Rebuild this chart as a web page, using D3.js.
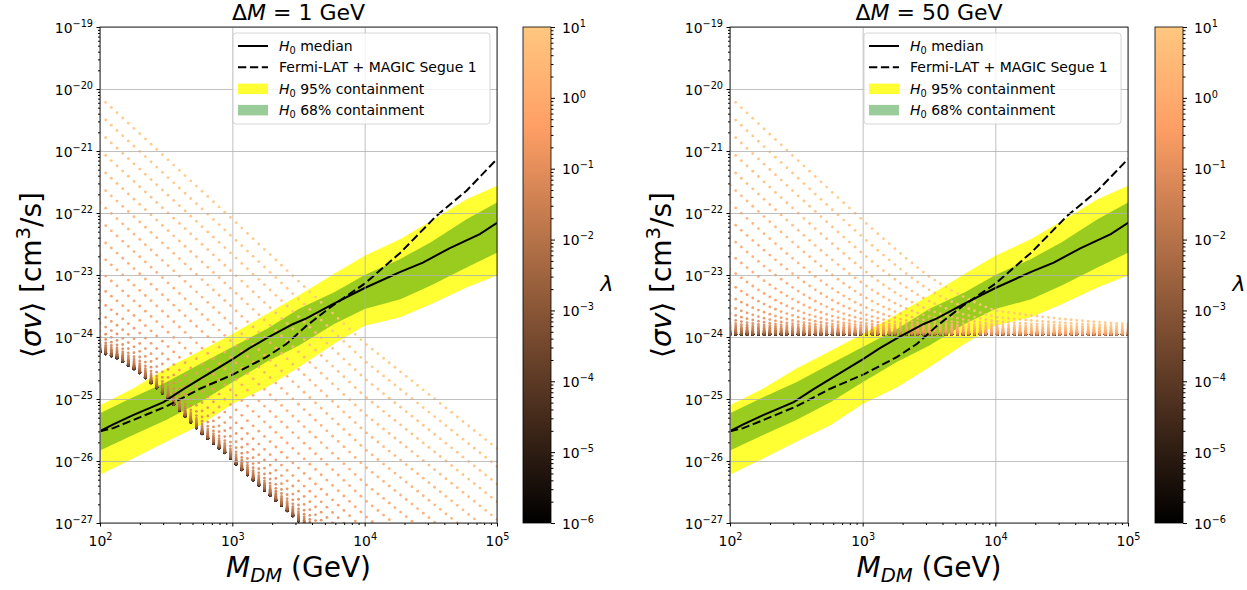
<!DOCTYPE html>
<html>
<head>
<meta charset="UTF-8" />
<title>sigma v limits</title>
<style>
  body { margin: 0; padding: 0; background: #fff; }
  svg { display: block; font-family: 'DejaVu Sans', sans-serif; }
</style>
</head>
<body>
<div class="container"></div>
<script src="https://cdnjs.cloudflare.com/ajax/libs/d3/7.8.5/d3.min.js"></script>
<script>
// ---- expected limits (log10 <sigma v>) ----
const bandMassExp = [2.0, 2.25, 2.5, 2.76, 3.0, 3.26, 3.5, 3.77, 4.0, 4.27, 4.5, 4.77, 5.0];
const band95Hi = [-25.10, -24.83, -24.51, -24.22, -23.95, -23.63, -23.33, -22.98, -22.69, -22.42, -22.13, -21.78, -21.56];
const band68Hi = [-25.23, -24.97, -24.73, -24.43, -24.16, -23.87, -23.55, -23.28, -23.00, -22.74, -22.47, -22.10, -21.83];
const band68Lo = [-25.83, -25.58, -25.34, -25.05, -24.73, -24.40, -24.14, -23.79, -23.55, -23.39, -23.17, -22.88, -22.64];
const band95Lo = [-26.22, -25.96, -25.69, -25.42, -25.08, -24.81, -24.49, -24.11, -23.82, -23.68, -23.47, -23.20, -23.01];

const medianMassExp = [2.0, 2.10, 2.25, 2.48, 2.63, 2.76, 3.0, 3.13, 3.26, 3.46, 3.56, 3.76, 4.0, 4.27, 4.44, 4.64, 4.87, 5.0];
const medianVal = [-25.52, -25.41, -25.26, -25.05, -24.84, -24.67, -24.36, -24.18, -24.02, -23.79, -23.70, -23.47, -23.21, -22.95, -22.80, -22.57, -22.34, -22.16];

const fermiMassExp = [2.0, 2.10, 2.25, 2.50, 2.76, 3.0, 3.26, 3.41, 3.56, 3.76, 4.0, 4.27, 4.54, 4.77, 5.0];
const fermiVal = [-25.52, -25.47, -25.34, -25.12, -24.83, -24.61, -24.32, -24.11, -23.82, -23.49, -23.14, -22.64, -22.05, -21.64, -21.13];

// ---- model scan: mass columns and lambda values of the scatter ----
const massGrid = d3.range(71).map(i => 10 ** (2 + 3 * i / 70));
const lambdaGrid = d3.range(50).map(i => 10 ** (-6 + 7 * i / 49));

// lower envelope of the scan (small lambda) per panel
const floorExp1 = [2.0, 2.13, 2.29, 2.46, 2.62, 2.78, 2.95, 3.06, 3.62, 5.0];
const floorVal1 = [-24.24, -24.34, -24.56, -24.88, -25.23, -25.58, -25.88, -26.12, -27.2, -29.95];
const floorExp50 = [2.0, 5.0];
const floorVal50 = [-23.96, -23.96];
// the lambda = 10 dotted line per panel
const topExp1 = [2.0, 3.0, 4.0, 5.0];
const topVal1 = [-20.13, -22.1, -24.1, -25.8];
const topExp50 = [2.0, 3.0, 3.5, 4.0, 4.5, 5.0];
const topVal50 = [-20.13, -22.13, -23.13, -24.0, -24.4, -24.81];
// height of the dense column sitting on the envelope (fraction of the envelope)
const streakRise = 0.55;

const yTicks = [1e-27, 1e-26, 1e-25, 1e-24, 1e-23, 1e-22, 1e-21, 1e-20, 1e-19];
const xTicks = [1e2, 1e3, 1e4, 1e5];
const cbTicks = [1e-6, 1e-5, 1e-4, 1e-3, 1e-2, 1e-1, 1e0, 1e1];

const panels = [
  { dm: '1', x0: 100, x1: 497, cb: 523, floorE: floorExp1, floorV: floorVal1, topE: topExp1, topV: topVal1 },
  { dm: '50', x0: 730, x1: 1128, cb: 1155, floorE: floorExp50, floorV: floorVal50, topE: topExp50, topV: topVal50 }
];

const W = 1247, H = 590, yTop = 27, yBot = 523, cbW = 28;

const copper = t => d3.rgb(Math.min(1, 1.25 * t) * 255, 0.7812 * t * 255, 0.4975 * t * 255) + '';
const color = d3.scaleSequentialLog(copper).domain([1e-6, 10]);

const minors = (lo, hi) => {
  const out = [];
  for (let e = lo; e < hi; e++) for (let k = 2; k <= 9; k++) out.push(k * 10 ** e);
  return out;
};

const supLabel = (sel, fs) => sel.each(function (d) {
  const e = Math.round(Math.log10(d));
  const t = d3.select(this).text(null);
  t.append('tspan').text('10');
  t.append('tspan').attr('font-size', fs * 0.7).attr('dy', -fs * 0.42)
    .text(e < 0 ? '\u2212' + (-e) : '' + e);
});

const svg = d3.select('.container').append('svg').attr('width', W).attr('height', H);
const defs = svg.append('defs');

const grad = defs.append('linearGradient').attr('id', 'copper')
  .attr('x1', 0).attr('y1', 1).attr('x2', 0).attr('y2', 0);
d3.range(0, 1.0001, 0.05).forEach(t => grad.append('stop').attr('offset', t).attr('stop-color', copper(t)));

const drawPanel = (p, idx) => {
  const x = d3.scaleLog().domain([1e2, 1e5]).range([p.x0, p.x1]);
  const y = d3.scaleLog().domain([1e-27, 1e-19]).range([yBot, yTop]);
  const pw = p.x1 - p.x0, ph = yBot - yTop;

  defs.append('clipPath').attr('id', 'clip' + idx)
    .append('rect').attr('x', p.x0).attr('y', yTop).attr('width', pw).attr('height', ph);

  const g = svg.append('g');
  const plot = g.append('g').attr('clip-path', `url(#clip${idx})`);

  const bandData = bandMassExp.map((m, i) => ({ m: 10 ** m, a: 10 ** band95Lo[i], b: 10 ** band95Hi[i], c: 10 ** band68Lo[i], d: 10 ** band68Hi[i] }));
  plot.append('path').datum(bandData)
    .attr('d', d3.area().x(d => x(d.m)).y0(d => y(d.a)).y1(d => y(d.b)))
    .attr('fill', 'yellow').attr('fill-opacity', 0.8);
  plot.append('path').datum(bandData)
    .attr('d', d3.area().x(d => x(d.m)).y0(d => y(d.c)).y1(d => y(d.d)))
    .attr('fill', 'green').attr('fill-opacity', 0.4);

  // scatter of the model scan
  const floorAt = d3.scaleLinear().domain(p.floorE).range(p.floorV);
  const topAt = d3.scaleLinear().domain(p.topE).range(p.topV);
  const pts = [];
  lambdaGrid.forEach(l => massGrid.forEach(m => {
    const lm = Math.log10(m);
    const fl = 10 ** floorAt(lm), tp = 10 ** topAt(lm);
    const lc = 10 * Math.sqrt(fl / tp);   // lambda where the dotted lines reach the envelope
    pts.push({ m, l, v: fl * (1 + streakRise * Math.sqrt(l / lc)) + tp * (l / 10) ** 2 });
  }));
  plot.append('g').selectAll('circle').data(pts).join('circle')
    .attr('cx', d => x(d.m)).attr('cy', d => y(d.v)).attr('r', 1.4)
    .attr('fill', d => color(d.l)).attr('fill-opacity', 0.9);

  // grid
  g.append('g').attr('transform', `translate(0,${yBot})`)
    .call(d3.axisBottom(x).tickValues(xTicks).tickSize(-ph).tickFormat(''))
    .call(a => a.select('.domain').remove())
    .call(a => a.selectAll('line').attr('stroke', '#b0b0b0').attr('stroke-width', 0.8));
  g.append('g').attr('transform', `translate(${p.x0},0)`)
    .call(d3.axisLeft(y).tickValues(yTicks).tickSize(-pw).tickFormat(''))
    .call(a => a.select('.domain').remove())
    .call(a => a.selectAll('line').attr('stroke', '#b0b0b0').attr('stroke-width', 0.8));

  // limit curves
  plot.append('path').datum(medianMassExp.map((m, i) => [10 ** m, 10 ** medianVal[i]]))
    .attr('d', d3.line().x(d => x(d[0])).y(d => y(d[1])))
    .attr('fill', 'none').attr('stroke', '#000').attr('stroke-width', 2);
  plot.append('path').datum(fermiMassExp.map((m, i) => [10 ** m, 10 ** fermiVal[i]]))
    .attr('d', d3.line().x(d => x(d[0])).y(d => y(d[1])))
    .attr('fill', 'none').attr('stroke', '#000').attr('stroke-width', 2)
    .attr('stroke-dasharray', '8.3,3.6');

  // frame
  g.append('rect').attr('x', p.x0).attr('y', yTop).attr('width', pw).attr('height', ph)
    .attr('fill', 'none').attr('stroke', '#000').attr('stroke-width', 0.8);

  // axes
  const fs = 13.9;
  const ya = g.append('g').attr('transform', `translate(${p.x0},0)`)
    .call(d3.axisLeft(y).tickValues(yTicks).tickSize(3.5).tickPadding(3.5));
  ya.select('.domain').remove();
  ya.attr('font-size', fs).attr('font-family', null);
  ya.selectAll('.tick text').attr('fill', '#000').attr('dy', '0.36em').call(supLabel, fs);
  g.append('g').attr('transform', `translate(${p.x0},0)`)
    .call(d3.axisLeft(y).tickValues(minors(-27, -19)).tickSize(2).tickFormat(''))
    .call(a => a.select('.domain').remove());

  const xa = g.append('g').attr('transform', `translate(0,${yBot})`)
    .call(d3.axisBottom(x).tickValues(xTicks).tickSize(3.5).tickPadding(3.5));
  xa.select('.domain').remove();
  xa.attr('font-size', fs).attr('font-family', null);
  xa.selectAll('.tick text').attr('fill', '#000').attr('y', 23).attr('dy', null).call(supLabel, fs);
  g.append('g').attr('transform', `translate(0,${yBot})`)
    .call(d3.axisBottom(x).tickValues(minors(2, 5)).tickSize(2).tickFormat(''))
    .call(a => a.select('.domain').remove());

  // title
  const cx = (p.x0 + p.x1) / 2;
  const title = g.append('text').attr('x', cx).attr('y', 20).attr('text-anchor', 'middle').attr('font-size', 22);
  title.append('tspan').text('\u0394');
  title.append('tspan').attr('font-style', 'italic').text('M');
  title.append('tspan').text(` = ${p.dm} GeV`);

  // axis labels
  const xl = g.append('text').attr('x', cx).attr('y', 577).attr('text-anchor', 'middle').attr('font-size', 28);
  xl.append('tspan').attr('font-style', 'italic').text('M');
  xl.append('tspan').attr('font-style', 'italic').attr('font-size', 19.6).attr('dy', 5).text('DM');
  xl.append('tspan').attr('dy', -5).text(' (GeV)');

  const yl = g.append('text').attr('transform', `translate(${p.x0 - 59},${(yTop + yBot) / 2}) rotate(-90)`)
    .attr('text-anchor', 'middle').attr('font-size', 28);
  yl.append('tspan').text('\u27E8');
  yl.append('tspan').attr('font-style', 'italic').text('\u03C3v');
  yl.append('tspan').text('\u27E9 [cm');
  yl.append('tspan').attr('font-size', 19.6).attr('dy', -11).text('3');
  yl.append('tspan').attr('dy', 11).text('/s]');

  // legend
  const lx = p.x1 - 264, ly = yTop + 6;
  const lg = g.append('g').attr('transform', `translate(${lx},${ly})`).attr('font-size', 14);
  lg.append('rect').attr('width', 257).attr('height', 91).attr('rx', 3)
    .attr('fill', '#fff').attr('fill-opacity', 0.8).attr('stroke', '#cccccc').attr('stroke-width', 0.8);
  const rows = [
    { kind: 'solid', pre: 'H', sub: '0', txt: ' median' },
    { kind: 'dash', txt: 'Fermi-LAT + MAGIC Segue 1' },
    { kind: 'y', pre: 'H', sub: '0', txt: ' 95% containment' },
    { kind: 'g', pre: 'H', sub: '0', txt: ' 68% containment' }
  ];
  rows.forEach((r, i) => {
    const cy = 13 + i * 21.3;
    if (r.kind === 'solid' || r.kind === 'dash') {
      lg.append('line').attr('x1', 5).attr('x2', 35).attr('y1', cy).attr('y2', cy)
        .attr('stroke', '#000').attr('stroke-width', 2)
        .attr('stroke-dasharray', r.kind === 'dash' ? '8.3,3.6' : null);
    } else {
      lg.append('rect').attr('x', 5).attr('y', cy - 5).attr('width', 30).attr('height', 10.5)
        .attr('fill', r.kind === 'y' ? 'yellow' : 'green').attr('fill-opacity', r.kind === 'y' ? 0.8 : 0.4);
    }
    const t = lg.append('text').attr('x', 46).attr('y', cy + 5);
    if (r.pre) {
      t.append('tspan').attr('font-style', 'italic').text(r.pre);
      t.append('tspan').attr('font-size', 9.8).attr('dy', 3).text(r.sub);
      t.append('tspan').attr('dy', -3).text(r.txt);
    } else {
      t.text(r.txt);
    }
  });

  // colorbar
  const cy = d3.scaleLog().domain([1e-6, 10]).range([yBot, yTop]);
  g.append('rect').attr('x', p.cb).attr('y', yTop).attr('width', cbW).attr('height', ph)
    .attr('fill', 'url(#copper)').attr('stroke', '#000').attr('stroke-width', 0.8);
  const ca = g.append('g').attr('transform', `translate(${p.cb + cbW},0)`)
    .call(d3.axisRight(cy).tickValues(cbTicks).tickSize(4).tickPadding(7));
  ca.select('.domain').remove();
  ca.attr('font-size', fs).attr('font-family', null);
  ca.selectAll('.tick text').attr('fill', '#000').attr('dy', '0.36em').call(supLabel, fs);
  g.append('g').attr('transform', `translate(${p.cb + cbW},0)`)
    .call(d3.axisRight(cy).tickValues(minors(-6, 1)).tickSize(2.5).tickFormat(''))
    .call(a => a.select('.domain').remove());
  g.append('text').attr('x', p.cb + 84).attr('y', 291).attr('text-anchor', 'middle')
    .attr('font-size', 22).attr('font-style', 'italic').text('\u03BB');
};

panels.forEach(drawPanel);
</script>
</body>
</html>
